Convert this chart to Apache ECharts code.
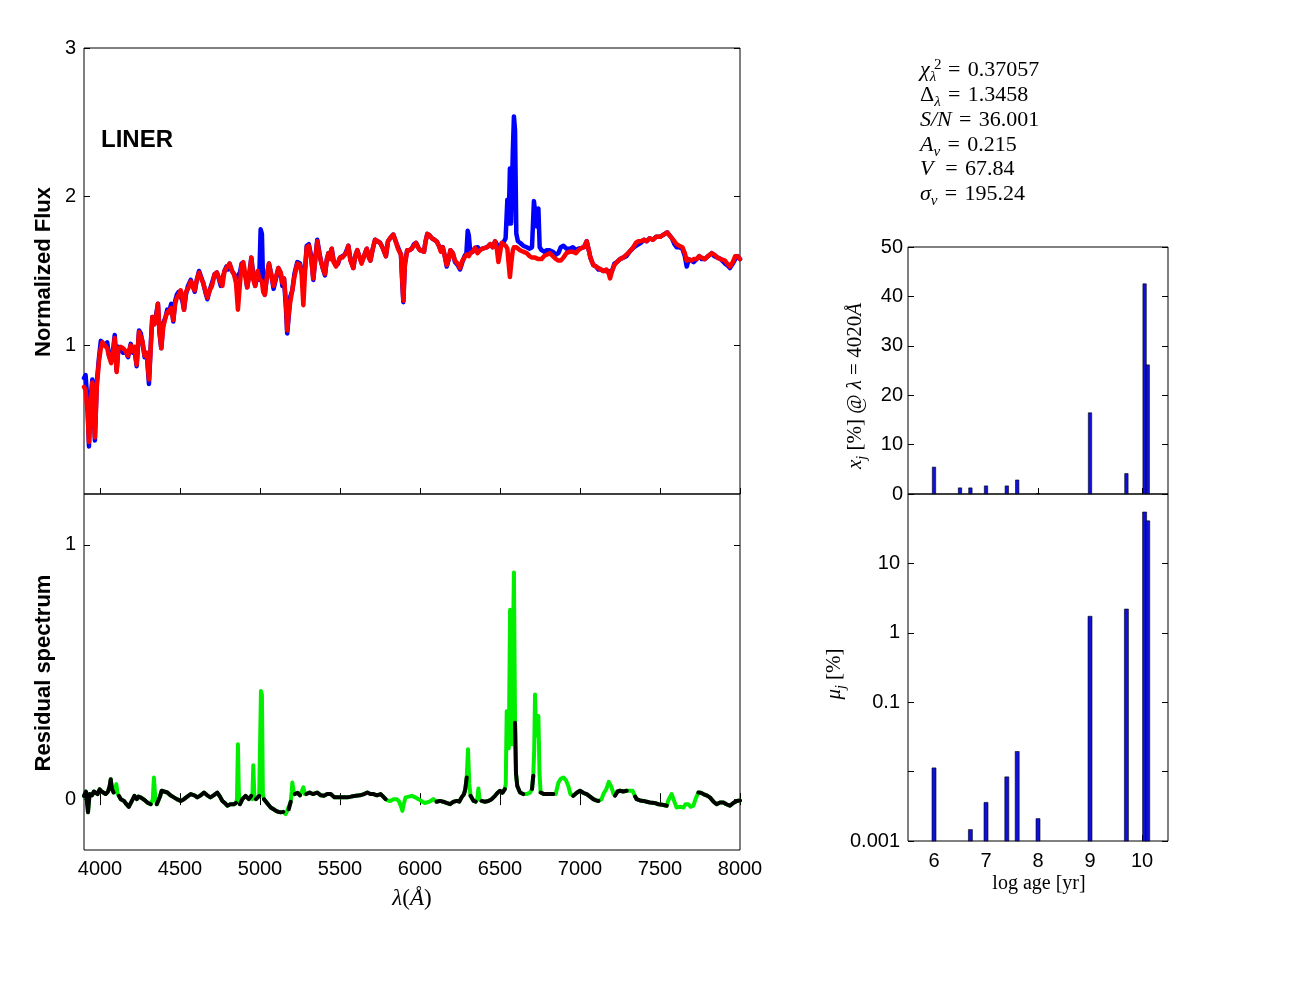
<!DOCTYPE html>
<html>
<head>
<meta charset="utf-8">
<title>LINER spectral fit</title>
<script src="https://cdn.jsdelivr.net/npm/echarts@6.0.0/dist/echarts.min.js"></script>
<style>
  html, body { margin: 0; padding: 0; background: #fff; }
  #main { width: 1298px; height: 990px; }
</style>
</head>
<body>
<div id="main"></div>
<script>
// observed (blue) and synthetic (red) spectrum, normalized flux
const wave = [
  3900, 3910, 3922, 3931, 3942, 3952, 3960, 3968, 3980, 3994,
  4005, 4015, 4030, 4045, 4056, 4070, 4085, 4092, 4104, 4115,
  4130, 4145, 4160, 4175, 4192, 4205, 4215, 4229, 4244, 4255,
  4265, 4279, 4292, 4306, 4318, 4327, 4340, 4350, 4362, 4372,
  4383, 4395, 4410, 4420, 4431, 4445, 4458, 4470, 4480, 4492,
  4504, 4515, 4525, 4537, 4550, 4567, 4580, 4592, 4605, 4619,
  4632, 4645, 4658, 4671, 4685, 4700, 4717, 4730, 4745, 4755,
  4765, 4778, 4790, 4800, 4810, 4825, 4837, 4850, 4862, 4875,
  4885, 4896, 4910, 4920, 4935, 4946, 4958, 4970, 4985, 4995,
  5004, 5012, 5020, 5030, 5045, 5056, 5070, 5085, 5100, 5115,
  5130, 5140, 5150, 5162, 5170, 5180, 5190, 5202, 5215, 5233,
  5242, 5250, 5260, 5271, 5282, 5292, 5305, 5320, 5333, 5345,
  5358, 5370, 5380, 5392, 5406, 5418, 5428, 5438, 5448, 5460,
  5475, 5488, 5500, 5515, 5530, 5542, 5552, 5565, 5583, 5595,
  5608, 5620, 5635, 5650, 5667, 5680, 5690, 5705, 5719, 5730,
  5750, 5765, 5787, 5800, 5813, 5833, 5848, 5862, 5881, 5890,
  5896, 5905, 5920, 5935, 5948, 5962, 5975, 5988, 6000, 6012,
  6025, 6035, 6046, 6060, 6075, 6090, 6104, 6118, 6130, 6142,
  6155, 6167, 6180, 6190, 6205, 6219, 6235, 6250, 6265, 6278,
  6290, 6298, 6305, 6315, 6330, 6344, 6360, 6375, 6390, 6406,
  6420, 6438, 6455, 6469, 6480, 6490, 6500, 6510, 6521, 6535,
  6546, 6554, 6562, 6570, 6580, 6587, 6594, 6602, 6612, 6625,
  6645, 6667, 6685, 6700, 6712, 6719, 6730, 6740, 6748, 6760,
  6775, 6792, 6810, 6830, 6850, 6865, 6880, 6896, 6915, 6937,
  6955, 6975, 6990, 7010, 7025, 7042, 7055, 7065, 7083, 7100,
  7115, 7130, 7146, 7165, 7180, 7188, 7200, 7215, 7230, 7250,
  7270, 7290, 7310, 7333, 7350, 7365, 7380, 7400, 7417, 7435,
  7455, 7475, 7500, 7515, 7530, 7545, 7560, 7575, 7590, 7604,
  7620, 7640, 7655, 7667, 7680, 7695, 7710, 7729, 7745, 7760,
  7780, 7800, 7823, 7840, 7860, 7880, 7906, 7920, 7937, 7955,
  7970, 7985, 8000
]
const fluxObs = [
  0.78, 0.80, 0.62, 0.32, 0.65, 0.77, 0.60, 0.36, 0.75, 0.92,
  1.03, 1.04, 1.00, 1.02, 0.93, 0.89, 1.00, 1.07, 0.83, 0.99,
  0.97, 0.95, 0.96, 0.92, 1.01, 0.95, 0.98, 0.86, 1.10, 1.08,
  1.02, 0.92, 0.95, 0.74, 1.02, 1.19, 1.15, 1.20, 1.28, 1.08,
  0.98, 1.15, 1.19, 1.24, 1.22, 1.28, 1.16, 1.30, 1.34, 1.36,
  1.37, 1.30, 1.24, 1.34, 1.40, 1.44, 1.40, 1.36, 1.44, 1.50,
  1.46, 1.42, 1.36, 1.31, 1.37, 1.42, 1.48, 1.49, 1.44, 1.40,
  1.40, 1.50, 1.53, 1.51, 1.55, 1.50, 1.48, 1.45, 1.44, 1.49,
  1.55, 1.56, 1.46, 1.39, 1.50, 1.59, 1.47, 1.40, 1.49, 1.44,
  1.78, 1.75, 1.38, 1.34, 1.48, 1.55, 1.48, 1.38, 1.45, 1.52,
  1.48, 1.40, 1.45, 1.25, 1.08, 1.20, 1.33, 1.37, 1.48, 1.56,
  1.56, 1.55, 1.50, 1.45, 1.52, 1.67, 1.68, 1.60, 1.44, 1.58,
  1.71, 1.63, 1.57, 1.52, 1.47, 1.58, 1.62, 1.60, 1.65, 1.57,
  1.54, 1.55, 1.59, 1.60, 1.61, 1.64, 1.67, 1.58, 1.52, 1.60,
  1.64, 1.60, 1.56, 1.60, 1.65, 1.60, 1.57, 1.65, 1.71, 1.70,
  1.69, 1.66, 1.60, 1.70, 1.72, 1.745, 1.70, 1.66, 1.61, 1.40,
  1.29, 1.55, 1.64, 1.64, 1.65, 1.68, 1.69, 1.66, 1.64, 1.65,
  1.63, 1.70, 1.75, 1.74, 1.72, 1.71, 1.70, 1.67, 1.64, 1.66,
  1.60, 1.53, 1.58, 1.64, 1.62, 1.56, 1.54, 1.51, 1.56, 1.60,
  1.62, 1.77, 1.74, 1.62, 1.63, 1.655, 1.66, 1.64, 1.65, 1.655,
  1.66, 1.68, 1.66, 1.70, 1.68, 1.64, 1.67, 1.68, 1.69, 1.72,
  1.98, 1.82, 2.19, 1.82, 2.30, 2.54, 2.45, 1.75, 1.70, 1.69,
  1.67, 1.66, 1.65, 1.66, 1.97, 1.97, 1.80, 1.92, 1.66, 1.64,
  1.63, 1.64, 1.64, 1.63, 1.61, 1.62, 1.66, 1.67, 1.65, 1.65,
  1.66, 1.64, 1.65, 1.655, 1.66, 1.70, 1.64, 1.59, 1.54, 1.53,
  1.51, 1.51, 1.50, 1.50, 1.50, 1.47, 1.50, 1.55, 1.56, 1.58,
  1.59, 1.60, 1.63, 1.655, 1.67, 1.68, 1.69, 1.71, 1.70, 1.72,
  1.71, 1.73, 1.73, 1.74, 1.75, 1.76, 1.74, 1.72, 1.68, 1.66,
  1.66, 1.65, 1.60, 1.53, 1.58, 1.57, 1.56, 1.58, 1.60, 1.58,
  1.58, 1.60, 1.62, 1.60, 1.59, 1.58, 1.55, 1.54, 1.52, 1.55,
  1.58, 1.60, 1.58
]
const fluxSyn = [
  0.72, 0.70, 0.55, 0.35, 0.62, 0.75, 0.55, 0.38, 0.72, 0.90,
  0.98, 1.02, 1.00, 0.98, 0.93, 0.88, 0.98, 1.05, 0.82, 0.98,
  0.99, 0.98, 0.96, 0.93, 1.00, 0.96, 0.99, 0.87, 1.09, 1.08,
  1.03, 0.93, 0.95, 0.77, 1.00, 1.19, 1.14, 1.18, 1.28, 1.10,
  0.98, 1.12, 1.19, 1.22, 1.22, 1.25, 1.17, 1.28, 1.32, 1.34,
  1.37, 1.32, 1.24, 1.36, 1.38, 1.43, 1.39, 1.37, 1.44, 1.49,
  1.45, 1.42, 1.37, 1.32, 1.37, 1.40, 1.48, 1.49, 1.45, 1.42,
  1.40, 1.50, 1.52, 1.52, 1.55, 1.50, 1.48, 1.42, 1.24, 1.42,
  1.54, 1.56, 1.46, 1.39, 1.48, 1.59, 1.44, 1.40, 1.50, 1.45,
  1.45, 1.43, 1.36, 1.34, 1.48, 1.55, 1.47, 1.40, 1.46, 1.52,
  1.49, 1.42, 1.45, 1.30, 1.10, 1.22, 1.30, 1.37, 1.46, 1.55,
  1.55, 1.54, 1.48, 1.27, 1.50, 1.66, 1.67, 1.58, 1.45, 1.57,
  1.70, 1.62, 1.57, 1.52, 1.48, 1.58, 1.62, 1.58, 1.65, 1.56,
  1.53, 1.56, 1.59, 1.59, 1.61, 1.63, 1.67, 1.57, 1.52, 1.60,
  1.64, 1.60, 1.55, 1.60, 1.65, 1.59, 1.57, 1.65, 1.71, 1.70,
  1.69, 1.66, 1.60, 1.70, 1.72, 1.745, 1.70, 1.65, 1.61, 1.42,
  1.30, 1.53, 1.64, 1.64, 1.65, 1.67, 1.69, 1.66, 1.64, 1.64,
  1.63, 1.70, 1.75, 1.74, 1.72, 1.71, 1.70, 1.67, 1.63, 1.66,
  1.60, 1.54, 1.58, 1.64, 1.62, 1.57, 1.55, 1.52, 1.57, 1.59,
  1.61, 1.61, 1.60, 1.62, 1.63, 1.655, 1.62, 1.64, 1.65, 1.655,
  1.66, 1.68, 1.66, 1.70, 1.65, 1.56, 1.62, 1.69, 1.69, 1.67,
  1.65, 1.55, 1.46, 1.55, 1.64, 1.66, 1.67, 1.66, 1.65, 1.64,
  1.63, 1.62, 1.60, 1.59, 1.59, 1.59, 1.59, 1.58, 1.58, 1.58,
  1.60, 1.61, 1.62, 1.60, 1.58, 1.57, 1.57, 1.59, 1.62, 1.63,
  1.63, 1.62, 1.64, 1.655, 1.66, 1.70, 1.64, 1.59, 1.54, 1.53,
  1.52, 1.51, 1.50, 1.51, 1.48, 1.45, 1.50, 1.54, 1.56, 1.58,
  1.59, 1.61, 1.63, 1.66, 1.69, 1.70, 1.70, 1.71, 1.70, 1.72,
  1.71, 1.73, 1.73, 1.74, 1.75, 1.76, 1.74, 1.72, 1.70, 1.68,
  1.67, 1.66, 1.62, 1.57, 1.58, 1.57, 1.58, 1.58, 1.60, 1.59,
  1.58, 1.60, 1.62, 1.61, 1.59, 1.58, 1.57, 1.55, 1.53, 1.56,
  1.60, 1.60, 1.58
]

// residual spectrum; resMask = 1 where the pixel was masked (drawn green)
const resWave = [
  3900, 3912, 3925, 3935, 3950, 3962, 3973, 3985, 3998, 4010,
  4022, 4035, 4050, 4060, 4067, 4075, 4085, 4095, 4102, 4110,
  4118, 4130, 4150, 4165, 4180, 4192, 4205, 4215, 4230, 4240,
  4254, 4270, 4285, 4300, 4317, 4330, 4337, 4345, 4355, 4362,
  4375, 4385, 4400, 4421, 4440, 4462, 4480, 4504, 4525, 4545,
  4567, 4590, 4608, 4630, 4650, 4670, 4690, 4710, 4733, 4750,
  4765, 4780, 4796, 4815, 4837, 4850, 4856, 4862, 4868, 4875,
  4890, 4910, 4930, 4945, 4952, 4958, 4965, 4975, 4983, 4995,
  5000, 5006, 5012, 5018, 5025, 5035, 5050, 5067, 5085, 5100,
  5115, 5129, 5145, 5160, 5170, 5180, 5192, 5198, 5202, 5210,
  5218, 5235, 5250, 5262, 5271, 5280, 5290, 5310, 5330, 5358,
  5380, 5400, 5420, 5442, 5465, 5490, 5520, 5546, 5570, 5600,
  5625, 5650, 5671, 5690, 5710, 5730, 5754, 5770, 5785, 5800,
  5817, 5835, 5855, 5870, 5882, 5890, 5898, 5910, 5930, 5950,
  5970, 5990, 6015, 6030, 6042, 6060, 6083, 6104, 6125, 6145,
  6165, 6188, 6210, 6230, 6245, 6260, 6275, 6283, 6292, 6300,
  6308, 6316, 6323, 6335, 6348, 6358, 6365, 6372, 6385, 6405,
  6427, 6448, 6469, 6485, 6500, 6515, 6530, 6536, 6542, 6548,
  6555, 6563, 6570, 6576, 6581, 6587, 6591, 6594, 6600, 6608,
  6625, 6645, 6665, 6688, 6700, 6708, 6714, 6719, 6726, 6731,
  6740, 6747, 6754, 6775, 6800, 6833, 6848, 6865, 6880, 6896,
  6912, 6927, 6940, 6958, 6980, 7000, 7020, 7042, 7063, 7083,
  7100, 7115, 7135, 7146, 7165, 7180, 7195, 7210, 7219, 7235,
  7250, 7270, 7292, 7310, 7329, 7345, 7354, 7375, 7396, 7417,
  7437, 7465, 7490, 7515, 7542, 7555, 7573, 7590, 7604, 7625,
  7646, 7660, 7677, 7692, 7708, 7725, 7740, 7755, 7771, 7790,
  7812, 7835, 7854, 7875, 7896, 7915, 7937, 7958, 7979, 8000
]
const resFlux = [
  0.013, 0.03, -0.052, 0.02, 0.015, 0.03, 0.026, 0.02, 0.039, 0.03,
  0.025, 0.02, 0.03, 0.05, 0.078, 0.04, 0.026, 0.04, 0.059, 0.02,
  0.013, 0, -0.007, -0.02, -0.03, -0.033, 0, 0.013, 0, 0.01,
  0.007, 0, -0.007, -0.015, -0.02, 0, 0.085, 0.01, -0.02, -0.026,
  0.01, 0.033, 0.03, 0.026, 0.015, 0.007, 0, -0.007, 0, 0.01,
  0.02, 0.015, 0.007, 0.015, 0.026, 0.015, 0.007, 0.015, 0.026, 0.01,
  -0.007, -0.015, -0.026, -0.02, -0.02, -0.015, 0, 0.216, 0.02, -0.02,
  0, 0.013, 0, 0.013, 0, 0.133, 0.01, 0, 0, 0.013,
  0.02, 0.425, 0.41, 0.02, 0, 0, -0.02, -0.033, -0.04, -0.046,
  -0.05, -0.052, -0.05, -0.059, -0.045, -0.04, -0.01, 0.03, 0.065, 0.03,
  0.02, 0.025, 0.015, 0.02, 0.046, 0.02, 0.02, 0.026, 0.02, 0.026,
  0.015, 0.013, 0.02, 0.02, 0.007, 0.007, 0.007, 0.007, 0.01, 0.013,
  0.015, 0.02, 0.026, 0.02, 0.02, 0.015, 0.02, 0.01, 0, -0.005,
  -0.007, 0, 0, -0.01, -0.03, -0.046, -0.02, 0.007, 0.01, 0.013,
  0.007, 0, -0.01, -0.015, -0.02, -0.01, 0, -0.01, -0.007, -0.01,
  -0.015, -0.02, -0.01, -0.007, -0.01, 0.007, 0.02, 0.039, 0.085, 0.196,
  0.06, 0.013, 0.013, -0.007, -0.01, 0, 0.042, 0, -0.007, -0.01,
  -0.007, 0, 0.013, 0.025, 0.033, 0.025, 0.039, 0.06, 0.346, 0.3,
  0.2, 0.745, 0.3, 0.216, 0.6, 0.891, 0.55, 0.30, 0.10, 0.052,
  0.026, 0.02, 0.02, 0.026, 0.04, 0.092, 0.2, 0.412, 0.25, 0.3,
  0.327, 0.1, 0.026, 0.02, 0.02, 0.02, 0.02, 0.065, 0.08, 0.085,
  0.075, 0.052, 0.02, 0.013, 0.025, 0.033, 0.025, 0.02, 0.01, 0,
  -0.005, -0.007, 0, 0.02, 0.04, 0.068, 0.05, 0.02, 0.013, 0.03,
  0.033, 0.03, 0.033, 0.033, 0.033, 0.01, 0, -0.005, -0.007, -0.01,
  -0.013, -0.015, -0.02, -0.022, -0.026, 0, 0.02, -0.01, -0.033, -0.03,
  -0.033, -0.02, -0.02, -0.03, -0.026, 0.005, 0.026, 0.025, 0.02, 0.015,
  0.007, -0.01, -0.02, -0.013, -0.013, -0.02, -0.026, -0.015, -0.007, -0.005
]
const resMask = [
  0, 0, 0, 0, 0, 0, 0, 0, 0, 0,
  0, 0, 0, 0, 0, 0, 0, 1, 1, 1,
  0, 0, 0, 0, 0, 0, 0, 0, 0, 0,
  0, 0, 0, 0, 0, 1, 1, 1, 0, 0,
  0, 0, 0, 0, 0, 0, 0, 0, 0, 0,
  0, 0, 0, 0, 0, 0, 0, 0, 0, 0,
  0, 0, 0, 0, 0, 0, 1, 1, 1, 0,
  0, 0, 0, 0, 1, 1, 1, 0, 0, 0,
  1, 1, 1, 1, 0, 0, 0, 0, 0, 0,
  0, 0, 0, 1, 1, 0, 0, 1, 1, 1,
  0, 0, 0, 1, 1, 1, 0, 0, 0, 0,
  0, 0, 0, 0, 0, 0, 0, 0, 0, 0,
  0, 0, 0, 0, 0, 0, 0, 0, 0, 1,
  1, 1, 1, 1, 1, 1, 1, 1, 1, 1,
  1, 1, 1, 1, 1, 1, 1, 0, 0, 0,
  0, 0, 0, 0, 0, 0, 0, 0, 0, 1,
  1, 0, 0, 0, 0, 1, 1, 1, 0, 0,
  0, 0, 0, 0, 0, 0, 0, 1, 1, 1,
  1, 1, 1, 1, 1, 1, 1, 0, 0, 0,
  0, 0, 1, 1, 0, 0, 1, 1, 1, 1,
  1, 1, 0, 0, 0, 0, 1, 1, 1, 1,
  1, 1, 1, 0, 0, 0, 0, 0, 0, 0,
  0, 0, 1, 1, 1, 1, 1, 1, 0, 0,
  0, 0, 0, 1, 1, 0, 0, 0, 0, 0,
  0, 0, 0, 0, 0, 1, 1, 1, 1, 1,
  1, 1, 1, 1, 1, 1, 0, 0, 0, 0,
  0, 0, 0, 0, 0, 0, 0, 0, 0, 0
]

// population vectors per base age
const logAge = [6.0, 6.5, 6.7, 7.0, 7.4, 7.6, 8.0, 9.0, 9.7, 10.05, 10.11]
const lightFrac = [5.5, 1.3, 1.3, 1.7, 1.7, 2.9, 0.15, 16.5, 4.2, 42.6, 26.2]
const massFrac = [0.0113, null, 0.00146, 0.0036, 0.0084, 0.0195, 0.0021, 1.73, 2.2, 55, 41]

// tick positions
const waveTicks = [4000, 4500, 5000, 5500, 6000, 6500, 7000, 7500, 8000]
const fluxTicks = [1, 2, 3]
const resTicks = [0, 1]
const ageTicks = [6, 7, 8, 9, 10]
const xjTicks = [0, 10, 20, 30, 40, 50]
const muLabels = [0.001, 0.1, 1, 10]

// fit statistics
const statValues = ['0.37057', '1.3458', '36.001', '0.215', '67.84', '195.24']

const sans = 'Liberation Sans, Arial, Helvetica, sans-serif'
const serif = 'Liberation Serif, Times New Roman, serif'

function axis (type, gridIndex, position, min, max, ticks, showLabels, margin) {
  return {
    type: type,
    gridIndex: gridIndex,
    position: position,
    min: min,
    max: max,
    axisLine: { show: false },
    splitLine: { show: false },
    axisTick: { show: true, inside: true, length: 6, customValues: ticks, lineStyle: { color: '#000', width: 1 } },
    axisLabel: {
      show: showLabels,
      customValues: ticks,
      color: '#000',
      fontFamily: sans,
      fontSize: 20,
      margin: margin || 8,
      formatter: v => String(v)
    }
  }
}

function logAxis (position, showLabels) {
  return {
    type: 'log',
    logBase: 10,
    gridIndex: 3,
    position: position,
    min: 0.001,
    max: 100,
    axisLine: { show: false },
    splitLine: { show: false },
    axisTick: { show: true, inside: true, length: 6, lineStyle: { color: '#000', width: 1 } },
    axisLabel: {
      show: showLabels,
      color: '#000',
      fontFamily: sans,
      fontSize: 20,
      margin: 8,
      formatter: function (v) {
        const hit = muLabels.find(t => Math.abs(v / t - 1) < 1e-6)
        return hit === undefined ? '' : String(hit)
      }
    }
  }
}

const gridBox = { show: true, borderColor: '#000', borderWidth: 1, backgroundColor: 'transparent' }

const statRich = {
  i: { fontFamily: serif, fontStyle: 'italic', fontSize: 22, lineHeight: 30, verticalAlign: 'middle', fill: '#000' },
  n: { fontFamily: serif, fontSize: 22, lineHeight: 30, verticalAlign: 'middle', fill: '#000' },
  sub: { fontFamily: serif, fontStyle: 'italic', fontSize: 15, lineHeight: 15, verticalAlign: 'bottom', fill: '#000' }
}

const eq = '\u2004=\u2004'
const statLines = [
  '{i|χ}{sub|λ}{n|\u2009' + eq + statValues[0] + '}',
  '{n|Δ}{sub|λ}{n|' + eq + statValues[1] + '}',
  '{i|S/N}{n|' + eq + statValues[2] + '}',
  '{i|A}{sub|v}{n|' + eq + statValues[3] + '}',
  '{i|V}{n|\u2009' + eq + statValues[4] + '}',
  '{i|σ}{sub|v}{n|' + eq + statValues[5] + '}'
]
const statY = [74, 99, 124, 149, 173, 198]

const labelRich = {
  i: { fontFamily: serif, fontStyle: 'italic', fontSize: 21, lineHeight: 28, verticalAlign: 'middle', fill: '#000' },
  n: { fontFamily: serif, fontSize: 21, lineHeight: 28, verticalAlign: 'middle', fill: '#000' },
  sub: { fontFamily: serif, fontStyle: 'italic', fontSize: 14, lineHeight: 14, verticalAlign: 'bottom', fill: '#000' }
}

const graphics = statLines.map((t, k) => ({
  type: 'text',
  left: 920,
  top: statY[k] - 15,
  style: { text: t, rich: statRich }
}))
graphics.push(
  { type: 'text', x: 934, y: 65, style: { text: '2', fontFamily: serif, fontSize: 15, fill: '#000', verticalAlign: 'middle' } },
  { type: 'text', x: 101, y: 140, style: { text: 'LINER', fontFamily: sans, fontWeight: 'bold', fontSize: 24, fill: '#000', verticalAlign: 'middle' } },
  { type: 'text', x: 44, y: 272, rotation: Math.PI / 2, style: { text: 'Normalized Flux', fontFamily: sans, fontWeight: 'bold', fontSize: 22, fill: '#000', align: 'center', verticalAlign: 'middle' } },
  { type: 'text', x: 44, y: 673, rotation: Math.PI / 2, style: { text: 'Residual spectrum', fontFamily: sans, fontWeight: 'bold', fontSize: 22, fill: '#000', align: 'center', verticalAlign: 'middle' } },
  { type: 'text', x: 412, y: 899, style: { text: '{i|λ}{n|(}{i|Å}{n|)}', rich: { i: { fontFamily: serif, fontStyle: 'italic', fontSize: 23, fill: '#000' }, n: { fontFamily: serif, fontSize: 23, fill: '#000' } }, align: 'center', verticalAlign: 'middle' } },
  { type: 'text', x: 1039, y: 884, style: { text: 'log age [yr]', fontFamily: serif, fontSize: 20, fill: '#000', align: 'center', verticalAlign: 'middle' } },
  { type: 'text', x: 855, y: 386, rotation: Math.PI / 2, style: { text: '{i|x}{sub|j}{n| [%] @ }{i|λ}{n| = 4020}{i|Å}', rich: labelRich, align: 'center', verticalAlign: 'middle' } },
  { type: 'text', x: 834, y: 674, rotation: Math.PI / 2, style: { text: '{i|μ}{sub|j}{n| [%]}', rich: labelRich, align: 'center', verticalAlign: 'middle' } }
)

const chart = echarts.init(document.getElementById('main'))
const options = {
  animation: false,
  backgroundColor: '#fff',
  grid: [
    Object.assign({ left: 84, top: 48, width: 656, height: 446 }, gridBox),
    Object.assign({ left: 84, top: 494, width: 656, height: 356 }, gridBox),
    Object.assign({ left: 908, top: 247, width: 260, height: 247 }, gridBox),
    Object.assign({ left: 908, top: 494, width: 260, height: 347 }, gridBox)
  ],
  xAxis: [
    axis('value', 0, 'bottom', 3900, 8000, waveTicks, false),
    axis('value', 1, 'bottom', 3900, 8000, waveTicks, true, 9),
    axis('value', 1, 'top', 3900, 8000, waveTicks, false),
    axis('value', 2, 'bottom', 5.5, 10.5, ageTicks, false),
    axis('value', 3, 'bottom', 5.5, 10.5, ageTicks, true, 10)
  ],
  yAxis: [
    axis('value', 0, 'left', 0, 3, fluxTicks, true),
    axis('value', 0, 'right', 0, 3, fluxTicks, false),
    axis('value', 1, 'left', -0.2, 1.2, resTicks, true),
    axis('value', 1, 'right', -0.2, 1.2, resTicks, false),
    axis('value', 2, 'left', 0, 50, xjTicks, true, 5),
    axis('value', 2, 'right', 0, 50, xjTicks, false),
    logAxis('left', true),
    logAxis('right', false)
  ],
  graphic: graphics,
  series: [
    {
      type: 'line',
      xAxisIndex: 0,
      yAxisIndex: 0,
      data: wave.map((w, k) => [w, fluxObs[k]]),
      showSymbol: false,
      lineStyle: { color: '#0000ff', width: 4.5, join: 'round', cap: 'round' },
      z: 2
    },
    {
      type: 'line',
      xAxisIndex: 0,
      yAxisIndex: 0,
      data: wave.map((w, k) => [w, fluxSyn[k]]),
      showSymbol: false,
      lineStyle: { color: '#ff0000', width: 4.5, join: 'round', cap: 'round' },
      z: 3
    },
    {
      type: 'line',
      xAxisIndex: 1,
      yAxisIndex: 2,
      data: resWave.map((w, k) => [w, resFlux[k]]),
      showSymbol: false,
      lineStyle: { color: '#00ee00', width: 4, join: 'round', cap: 'round' },
      z: 2
    },
    {
      type: 'line',
      xAxisIndex: 1,
      yAxisIndex: 2,
      data: resWave.map((w, k) => [w, resMask[k] ? null : resFlux[k]]),
      connectNulls: false,
      showSymbol: false,
      lineStyle: { color: '#000000', width: 4, join: 'round', cap: 'round' },
      z: 3
    },
    {
      type: 'bar',
      xAxisIndex: 3,
      yAxisIndex: 4,
      data: logAge.map((a, k) => [a, lightFrac[k]]),
      barWidth: 4,
      itemStyle: { color: '#1010dd', borderColor: '#000', borderWidth: 0.6 }
    },
    {
      type: 'custom',
      xAxisIndex: 4,
      yAxisIndex: 6,
      data: logAge.map((a, k) => [a, massFrac[k]]).filter(d => d[1] !== null),
      encode: { x: 0, y: 1 },
      renderItem: function (params, api) {
        const top = api.coord([api.value(0), api.value(1)])
        const base = api.coord([api.value(0), 0.001])
        return {
          type: 'rect',
          shape: { x: top[0] - 2, y: top[1], width: 4, height: base[1] - top[1] },
          style: { fill: '#1010dd', stroke: '#000', lineWidth: 0.6 }
        }
      }
    }
  ]
}
chart.setOption(options)
</script>
</body>
</html>
